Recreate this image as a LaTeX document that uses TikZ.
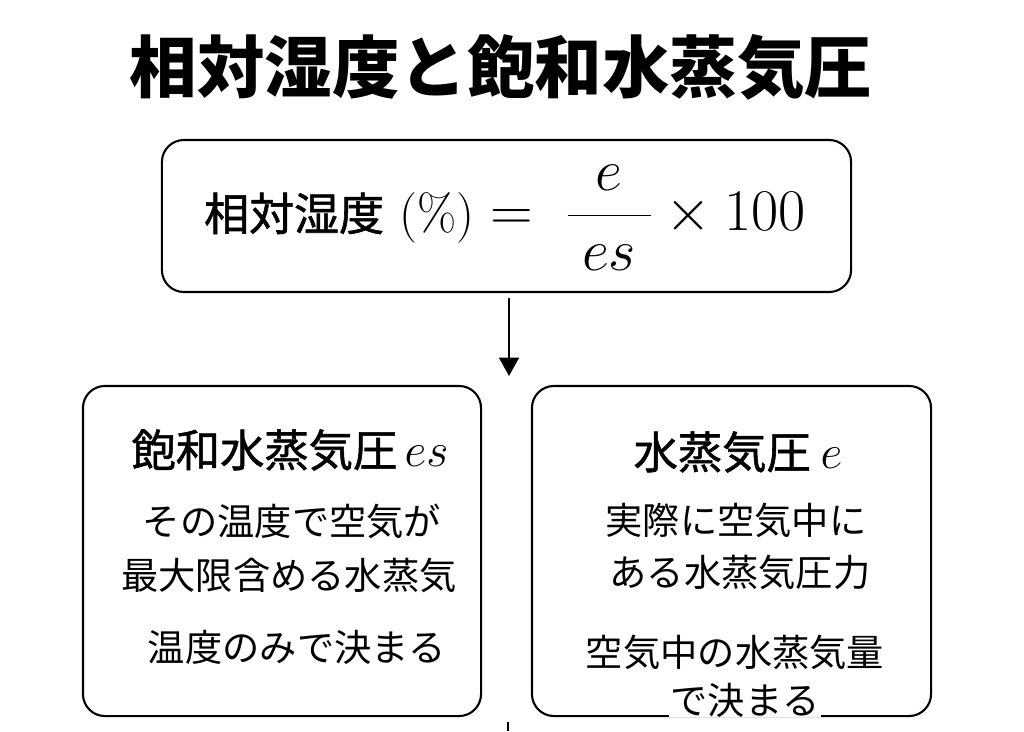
\documentclass[tikz,border=0pt]{standalone}
\usepackage{fix-cm}
\usepackage{amsmath}
\usepackage{fontspec}
\newfontfamily\jp{Noto Sans CJK JP}
\newfontfamily\jpm[FakeBold=1.2]{Noto Sans CJK JP}
\usetikzlibrary{arrows.meta}

\begin{document}
\begin{tikzpicture}[x=0.025cm,y=-0.025cm,
	box/.style = {draw, line width=1.5pt, rounded corners=0.55cm},
	title/.style = {font=\jp\bfseries\fontsize{48}{52}\selectfont},
	head/.style = {font=\jpm\fontsize{31.5}{36}\selectfont},
	txt/.style = {font=\jp\fontsize{26.5}{30}\selectfont, inner sep=0pt}]
	\useasboundingbox (0,0) rectangle (1024,731);
	\node[title] (title) at (501,67) {相対湿度と飽和水蒸気圧};
	\node[box, minimum width=17.225cm, minimum height=3.8cm] (rh) at (506.5,216) {};
	\node[inner sep=0pt] (eq) at (505,218) {{\jpm\fontsize{32}{36}\selectfont 相対湿度}{\fontsize{36}{40}\selectfont\ (\%)}\fontsize{42}{48}\selectfont$\;=\;\dfrac{\hspace{20pt}e\hspace{20pt}}{es}\times 100$};
	\coordinate (a1) at (509,298);
	\coordinate (a2) at (509,376);
	\draw[line width=1.5pt, -{Triangle[length=13pt,width=14pt]}] (a1) -- (a2);
	\node[box, minimum width=9.95cm, minimum height=8.25cm] (sat) at (282,551) {};
	\node[box, minimum width=9.975cm, minimum height=8.25cm] (vap) at (731.5,551) {};
	\node[head] (s0) at (290,450) {飽和水蒸気圧\,{\fontsize{34}{36}\selectfont$es$}};
	\node[txt] (s1) at (292,521) {その温度で空気が};
	\node[txt] (s2) at (289,575) {最大限含める水蒸気};
	\node[txt] (s3) at (297,647) {温度のみで決まる};
	\node[head] (v0) at (738,452) {水蒸気圧\ {\fontsize{34}{36}\selectfont$e$}};
	\node[txt] (v1) at (736,520) {実際に空気中に};
	\node[txt] (v2) at (740,572) {ある水蒸気圧力};
	\node[txt] (v3) at (735,652) {空気中の水蒸気量};
	\node[txt, fill=white, inner xsep=1pt] (v4) at (745,700) {で決まる};
	\coordinate (k1) at (508,722);
	\coordinate (k2) at (508,731);
	\draw[line width=1.2pt] (k1) -- (k2);
\end{tikzpicture}
\end{document}
